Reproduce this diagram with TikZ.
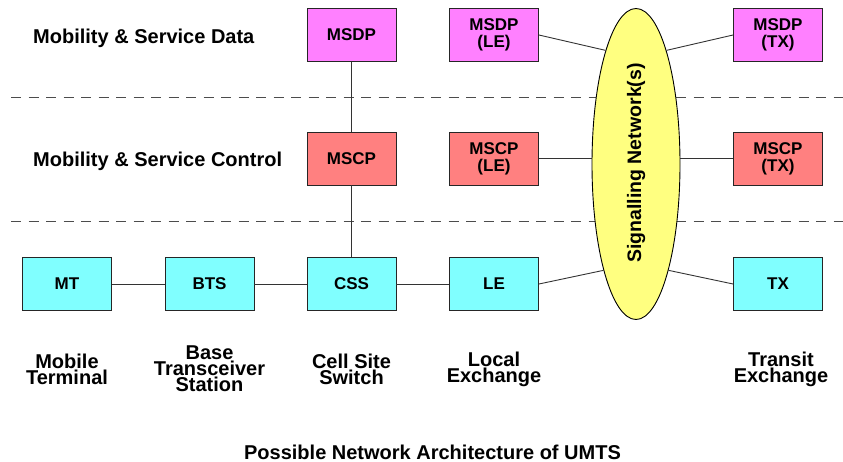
\documentclass[tikz,border=0pt]{standalone}
\usepackage{fontspec}
\setmainfont{Liberation Sans}
\usetikzlibrary{shapes.geometric}
\definecolor{datacol}{HTML}{FF80FF}
\definecolor{ctrlcol}{HTML}{FF8080}
\definecolor{phycol}{HTML}{80FFFF}
\definecolor{netcol}{HTML}{FFFF80}
\tikzset{
    unit/.style={draw=black!85,line width=0.9pt,minimum width=89pt,minimum height=53pt,
        inner sep=0pt,align=center,font=\fontsize{17}{17}\selectfont\bfseries},
    dataunit/.style={unit,fill=datacol},
    ctrlunit/.style={unit,fill=ctrlcol},
    phyunit/.style={unit,fill=phycol},
    caption/.style={align=center,font=\fontsize{20}{16}\selectfont\bfseries},
    layer/.style={anchor=west,inner sep=0pt,font=\fontsize{20}{20}\selectfont\bfseries},
    link/.style={draw=black!80,line width=0.9pt},
}
\begin{document}
\begin{tikzpicture}[x=1pt,y=-1pt]
    \useasboundingbox (0,0) rectangle (843,462);

    \draw[black!70,line width=1pt,dash pattern=on 10pt off 7.5pt] (11,97.5) -- (843,97.5);
    \draw[black!70,line width=1pt,dash pattern=on 10pt off 7.5pt] (11,221.5) -- (843,221.5);

    \node (sdata) at (33,38) [layer] {Mobility \& Service Data};
    \node (sctrl) at (33,161) [layer] {Mobility \& Service Control};

    \node (sn) at (636,164) [ellipse,draw=black,line width=0.9pt,fill=netcol,
        minimum width=88pt,minimum height=311pt,inner sep=0pt] {};
    \node (snlabel) at (636,163) [rotate=90,font=\fontsize{19.5}{20}\selectfont\bfseries] {Signalling Network(s)};

    \node (msdp) at (351.5,35) [dataunit] {MSDP};
    \node (msdple) at (494,35) [dataunit] {MSDP\\(LE)};
    \node (msdptx) at (778,35) [dataunit] {MSDP\\(TX)};

    \node (mscp) at (351.5,158.5) [ctrlunit] {MSCP};
    \node (mscple) at (494,158.5) [ctrlunit] {MSCP\\(LE)};
    \node (mscptx) at (778,158.5) [ctrlunit] {MSCP\\(TX)};

    \node (mt) at (67,284) [phyunit] {MT};
    \node (bts) at (209.5,284) [phyunit] {BTS};
    \node (css) at (351.5,284) [phyunit] {CSS};
    \node (le) at (494,284) [phyunit] {LE};
    \node (tx) at (778,284) [phyunit] {TX};

    \node (mtname) at (67,369) [caption] {Mobile\\Terminal};
    \node (btsname) at (209.5,369) [caption] {Base\\Transceiver\\Station};
    \node (cssname) at (351.5,369) [caption] {Cell Site\\Switch};
    \node (lename) at (494,369) [caption] {Local\\Exchange};
    \node (txname) at (781,369) [caption] {Transit\\Exchange};

    \node (title) at (432.5,452) [caption] {Possible Network Architecture of UMTS};

    \draw[link] (msdp) -- (mscp) -- (css);
    \draw[link] (mt) -- (bts) -- (css) -- (le);
    \draw[link] (msdple.east) -- (sn.105);
    \draw[link] (msdptx.west) -- (sn.75);
    \draw[link] (mscple.east) -- (mscple.east -| sn.west);
    \draw[link] (mscptx.west) -- (mscptx.west -| sn.east);
    \draw[link] (le.east) -- (sn.253);
    \draw[link] (tx.west) -- (sn.287);
\end{tikzpicture}
\end{document}
